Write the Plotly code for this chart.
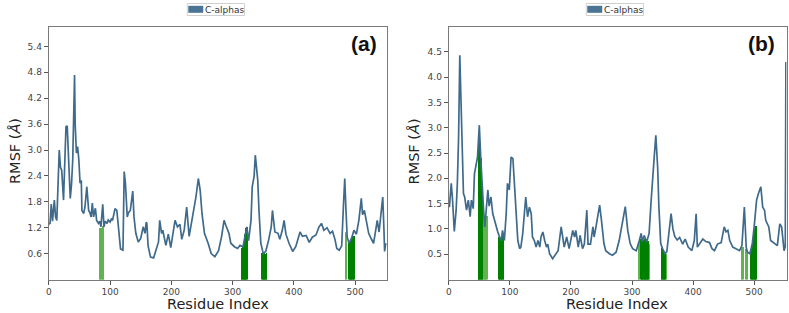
import plotly.graph_objects as go

# ---------------- Data ----------------
# Panel (a): C-alpha RMSF (Å) vs residue index
a_res = [0,2,4,6,9,11,13,15,17,19,21,24,26,28,30,33,35,37,39,42,43,45,47,49,51,53,54,57,59,62,
         65,67,69,71,73,76,78,81,83,85,88,90,92,95,97,100,102,104,108,111,114,117,121,123,125,128,
         130,133,137,139,142,146,150,152,154,157,159,160,162,166,171,175,179,181,184,186,191,195,
         199,206,210,214,217,221,225,229,234,237,240,244,247,250,254,260,265,271,277,282,286,289,
         294,297,303,308,312,317,321,323,326,330,332,335,337,341,343,346,350,354,359,363,365,369,
         374,377,381,384,387,392,398,403,410,414,420,425,430,436,441,445,449,454,459,463,467,470,
         474,478,481,483,485,487,490,494,498,502,506,510,512,515,519,522,526,530,533,536,539,542,
         545,547,548,550]
a_rmsf = [1.28,1.30,1.75,1.35,1.84,1.45,1.37,2.20,3.00,2.60,2.53,1.84,2.90,3.54,3.56,2.60,1.88,2.20,
          2.77,4.74,3.60,2.93,3.08,2.77,2.23,2.30,1.60,1.53,1.68,2.15,1.60,1.55,1.45,1.77,1.45,1.65,
          1.37,1.30,1.35,1.22,1.74,1.22,1.35,1.30,1.38,1.33,1.40,1.37,1.64,1.60,1.07,0.71,0.68,2.50,
          2.23,1.45,1.55,1.60,2.05,1.45,1.07,0.87,0.95,1.10,1.22,1.07,1.33,1.30,0.78,0.52,0.50,0.71,
          0.87,1.37,1.07,1.14,0.79,1.05,0.74,1.37,1.22,1.28,0.93,1.15,1.68,1.00,1.37,1.60,1.90,2.34,
          2.07,1.53,1.07,0.84,0.60,0.53,0.67,1.00,1.37,1.25,1.07,0.84,0.76,0.72,0.79,0.76,1.07,1.22,
          0.90,1.37,2.15,2.38,2.88,2.30,1.60,0.84,0.60,0.65,0.93,1.22,1.60,1.10,1.07,0.93,1.14,1.37,
          1.05,0.84,0.65,0.76,1.10,1.00,1.02,0.86,0.98,1.03,1.22,1.30,1.14,1.20,1.07,1.12,0.93,0.72,
          0.68,0.78,1.76,2.34,1.60,0.98,0.84,0.95,1.14,1.05,1.37,1.88,1.50,1.60,1.30,1.07,0.95,0.84,
          1.10,1.37,1.10,1.60,1.91,1.14,0.65,0.84]

# Panel (a) highlighted residues (green bars)
a_dark_res = [314,315,316,317,318,319,320,321,322,323,
              348,349,350,351,352,353,354,355,490,491,492,493,494,495,496,497,498]
a_dark_h = [0.70,0.72,0.75,0.76,0.85,0.95,1.05,1.10,1.20,1.22,
            0.62,0.60,0.60,0.62,0.60,0.58,0.60,0.62,0.84,0.88,0.90,0.92,0.95,0.95,1.00,1.00,1.00]
a_light_res = [83,84,85,86,87,88,89,484,485]
a_light_h = [1.20,1.18,1.15,1.20,1.22,1.25,1.20,1.10,1.05]

# Panel (b)
b_res = [0,1,4,6,9,12,14,16,18,20,22,24,26,29,32,35,37,40,42,44,47,49,50,52,54,57,59,61,64,66,69,
         72,75,77,80,83,86,88,91,94,96,99,102,105,107,110,113,116,118,121,124,126,129,132,135,137,
         140,143,146,149,151,154,157,160,162,165,170,173,179,184,187,189,193,197,203,206,208,212,
         215,219,222,226,228,232,236,238,241,244,247,250,254,257,263,268,274,279,285,289,293,297,
         301,307,312,315,317,320,324,328,331,334,336,339,342,344,347,350,354,357,361,364,367,370,
         374,378,383,387,392,398,402,405,407,411,416,421,427,431,435,440,446,451,454,457,460,465,
         470,476,480,484,487,489,493,497,500,504,507,511,514,517,519,524,527,533,538,542,545,549,
         551,552]
b_rmsf = [1.50,1.43,1.90,1.60,0.95,1.37,1.90,2.80,4.43,3.50,2.75,1.70,1.63,1.37,1.57,1.24,1.57,1.40,
          2.09,2.22,2.42,2.85,3.05,2.48,1.90,1.37,1.04,1.37,1.77,1.45,1.63,1.30,1.15,1.04,0.95,0.84,
          0.77,0.97,0.77,1.30,1.90,1.77,2.42,2.39,1.96,1.24,0.77,0.61,0.64,0.90,1.43,1.63,1.24,1.43,
          1.30,0.84,0.77,0.64,0.77,0.64,0.84,0.94,0.77,0.64,0.70,0.51,0.41,0.46,0.57,1.04,0.77,0.64,
          0.84,0.61,0.97,0.84,0.97,0.64,0.87,0.61,0.70,1.37,0.70,0.70,1.04,0.84,1.04,1.24,1.47,1.17,
          0.71,0.57,0.51,0.48,0.54,0.77,1.17,1.44,0.97,0.71,0.61,0.57,0.77,0.91,0.75,0.87,0.74,0.91,
          1.50,2.16,2.36,2.85,2.22,1.44,0.71,0.61,0.51,0.55,0.97,1.30,1.00,0.85,0.78,0.83,0.70,0.80,
          0.64,0.57,0.77,1.30,0.64,0.72,0.80,0.75,0.73,0.61,0.57,0.70,0.73,1.04,0.94,0.97,0.77,0.64,
          0.61,0.57,0.67,1.43,0.64,0.54,0.51,0.71,1.04,1.57,1.70,1.83,1.43,1.37,1.17,1.04,0.77,0.71,
          0.67,1.10,1.04,0.57,0.65,4.30]

b_dark_res = [48,49,50,51,52,53,54,82,83,84,85,86,87,88,89,
              314,315,316,317,318,319,320,321,322,323,324,325,326,327,
              348,349,350,351,352,353,354,495,496,497,498,499,500,501,502,503]
b_dark_h = [2.60,2.85,2.90,2.70,2.40,2.10,1.90,0.84,0.84,0.80,0.77,0.77,0.85,0.90,0.85,
            0.80,0.78,0.75,0.75,0.76,0.78,0.80,0.78,0.75,0.74,0.74,0.75,0.76,0.74,
            0.62,0.60,0.58,0.55,0.52,0.50,0.50,0.60,0.65,0.70,0.75,0.85,0.95,1.00,1.05,1.05]
b_light_res = [55,56,57,58,59,60,61,62,311,312,328,355,480,481,486,488]
b_light_h = [1.50,1.30,1.20,1.05,1.00,1.10,1.20,1.25,0.75,0.77,0.70,0.50,0.65,0.65,0.60,0.55]

x_ticks = [0, 100, 200, 300, 400, 500]
a_yticks = [0.6, 1.2, 1.8, 2.4, 3.0, 3.6, 4.2, 4.8, 5.4]
a_yticktext = ["0.6", "1.2", "1.8", "2.4", "3.0", "3.6", "4.2", "4.8", "5.4"]
b_yticks = [0.5, 1.0, 1.5, 2.0, 2.5, 3.0, 3.5, 4.0, 4.5]
b_yticktext = ["0.5", "1.0", "1.5", "2.0", "2.5", "3.0", "3.5", "4.0", "4.5"]

series_name = "C-alphas"
panel_labels = ["(a)", "(b)"]
x_title = "Residue Index"
y_title = "RMSF (<i>Å</i>)"

# ---------------- Style ----------------
W, H = 789, 313
LINE_C = "#3f6a8b"
DARK_G = "rgb(0,128,0)"
LIGHT_G = "rgb(95,180,80)"
FONT = "DejaVu Sans"

def px(x):
    return x / W

def py(y):
    return 1 - y / H

fig = go.Figure()

panels = [
    dict(xa="x", ya="y", res=a_res, val=a_rmsf, dr=a_dark_res, dh=a_dark_h, lr=a_light_res, lh=a_light_h),
    dict(xa="x2", ya="y2", res=b_res, val=b_rmsf, dr=b_dark_res, dh=b_dark_h, lr=b_light_res, lh=b_light_h),
]
for p in panels:
    fig.add_trace(go.Scatter(x=p["res"], y=p["val"], mode="lines", name=series_name,
                             line=dict(color=LINE_C, width=1.7), xaxis=p["xa"], yaxis=p["ya"],
                             showlegend=False))
    fig.add_trace(go.Bar(x=p["lr"], y=p["lh"], width=1, marker=dict(color=LIGHT_G, line=dict(width=0)),
                         xaxis=p["xa"], yaxis=p["ya"], showlegend=False))
    fig.add_trace(go.Bar(x=p["dr"], y=p["dh"], width=1, marker=dict(color=DARK_G, line=dict(width=0)),
                         xaxis=p["xa"], yaxis=p["ya"], showlegend=False))

axis_common = dict(showgrid=False, zeroline=False, showline=True, mirror=True,
                   linecolor="#7a7a7a", linewidth=1.2, ticks="outside", ticklen=4,
                   tickcolor="#555", tickwidth=1,
                   tickfont=dict(family=FONT, size=9, color="#444"))

dom_a = [px(46), px(385.5)]
dom_b = [px(447.5), px(786.5)]
dom_y = [py(279.5), py(27)]

fig.update_layout(
    width=W, height=H,
    margin=dict(l=0, r=0, t=0, b=0),
    paper_bgcolor="white", plot_bgcolor="white",
    barmode="overlay", bargap=0,
    showlegend=False,
    xaxis=dict(domain=dom_a, range=[0, 552], tickvals=x_ticks, anchor="y", **axis_common),
    yaxis=dict(domain=dom_y, range=[0, 5.85], tickvals=a_yticks, ticktext=a_yticktext, anchor="x", **axis_common),
    xaxis2=dict(domain=dom_b, range=[0, 553], tickvals=x_ticks, anchor="y2", **axis_common),
    yaxis2=dict(domain=dom_y, range=[0, 4.99], tickvals=b_yticks, ticktext=b_yticktext, anchor="x2", **axis_common),
)

shapes = []
annotations = []
deco = [
    dict(box_l=185, lab_x=362, xt=(46 + 385) / 2, yt_x=12),
    dict(box_l=585.5, lab_x=761, xt=(447.5 + 786) / 2, yt_x=413),
]
for i, d in enumerate(deco):
    bl = d["box_l"]
    shapes.append(dict(type="rect", xref="paper", yref="paper", x0=px(bl), x1=px(bl + 57.5),
                       y0=py(15.5), y1=py(3.5), line=dict(color="#d0d0d0", width=1), fillcolor="white"))
    shapes.append(dict(type="rect", xref="paper", yref="paper", x0=px(bl + 1), x1=px(bl + 16),
                       y0=py(12.8), y1=py(5.8), line=dict(width=0), fillcolor="#4a7494"))
    annotations.append(dict(text=series_name, xref="paper", yref="paper", x=px(bl + 15.5), y=py(9.6),
                            xanchor="left", yanchor="middle", showarrow=False,
                            font=dict(family=FONT, size=9, color="#333")))
    annotations.append(dict(text="<b>" + panel_labels[i] + "</b>", xref="paper", yref="paper",
                            x=px(d["lab_x"]), y=py(43), xanchor="center", yanchor="middle",
                            showarrow=False, font=dict(family="Liberation Sans", size=21, color="#111")))
    annotations.append(dict(text=x_title, xref="paper", yref="paper", x=px(d["xt"]), y=py(304),
                            xanchor="center", yanchor="middle", showarrow=False,
                            font=dict(family=FONT, size=14.5, color="#222")))
    annotations.append(dict(text=y_title, xref="paper", yref="paper", x=px(d["yt_x"]), y=py(151),
                            xanchor="center", yanchor="middle", textangle=-90, showarrow=False,
                            font=dict(family=FONT, size=14.5, color="#222")))

fig.update_layout(shapes=shapes, annotations=annotations)
fig.write_html("out.html", config={"displayModeBar": False},
               post_script="document.body.style.margin='0';document.body.style.overflow='hidden';")
